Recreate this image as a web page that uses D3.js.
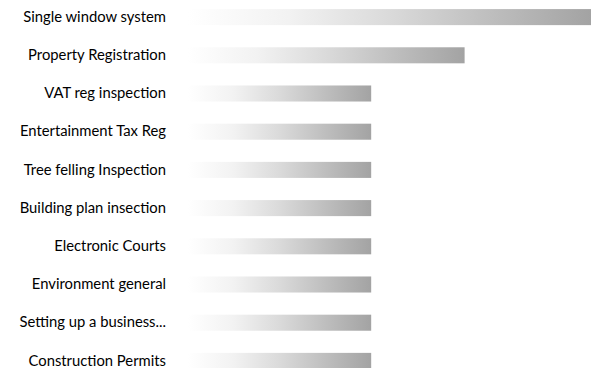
<!DOCTYPE html>
<html><head><meta charset="utf-8">
<script src="https://cdn.jsdelivr.net/npm/d3@7"></script>
<style>body{margin:0;background:#fff}svg{display:block}</style>
</head><body>
<script>
const categories = ["Single window system","Property Registration","VAT reg inspection","Entertainment Tax Reg","Tree felling Inspection","Building plan insection","Electronic Courts","Environment general","Setting up a business...","Construction Permits"];
const values = [22, 15.1, 10, 10, 10, 10, 10, 10, 10, 10];

const W = 591, H = 368;
const svg = d3.select("body").append("svg").attr("width", W).attr("height", H);

const x = d3.scaleLinear().domain([0, 22]).range([188, 591]);
const y = d3.scaleBand().domain(categories).range([-2, 380]).paddingInner(0.58).paddingOuter(0.29);

const defs = svg.append("defs");
const g = defs.append("linearGradient").attr("id", "grad").attr("x1", "0").attr("x2", "1").attr("y1", "0").attr("y2", "0");
[[0, "#ffffff"], [0.25, "#f2f2f2"], [0.5, "#dadada"], [0.75, "#bebebe"], [1, "#a3a3a3"]].forEach(([o, c]) =>
  g.append("stop").attr("offset", o).attr("stop-color", c));

svg.append("g").selectAll("rect").data(categories).join("rect")
  .attr("x", x(0))
  .attr("y", d => y(d))
  .attr("width", (d, i) => x(values[i]) - x(0))
  .attr("height", y.bandwidth())
  .attr("fill", "url(#grad)");

const axis = d3.axisLeft(y).tickSize(0).tickPadding(22);
const ag = svg.append("g").attr("transform", `translate(${x(0)},0)`).call(axis);
ag.select(".domain").remove();
ag.selectAll("text").attr("font-family", "Lato, 'Open Sans', sans-serif").attr("font-size", 14.8).attr("fill", "#000");
</script>
</body></html>
